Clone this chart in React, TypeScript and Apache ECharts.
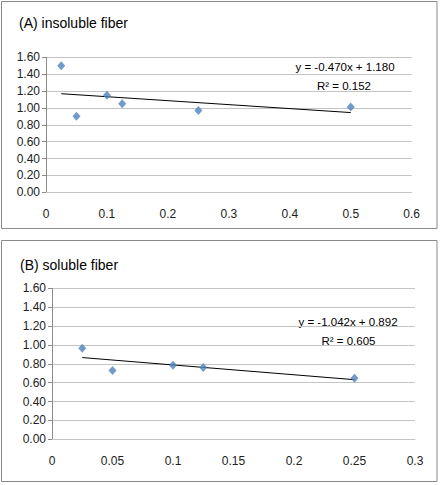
import React, { useEffect, useRef } from "react";
import * as echarts from "echarts";

// (A) insoluble fiber
const xA = [0.025, 0.05, 0.1, 0.125, 0.25, 0.5];
const yA = [1.5, 0.9, 1.15, 1.05, 0.97, 1.01];
const slopeA = -0.47;
const interceptA = 1.18;
const eqA = "y = -0.470x + 1.180";
const r2A = "R² = 0.152";
const titleA = "(A) insoluble fiber";
const xMaxA = 0.6;
const xIntA = 0.1;

// (B) soluble fiber
const xB = [0.025, 0.05, 0.1, 0.125, 0.25];
const yB = [0.965, 0.73, 0.785, 0.76, 0.648];
const slopeB = -1.042;
const interceptB = 0.892;
const eqB = "y = -1.042x + 0.892";
const r2B = "R² = 0.605";
const titleB = "(B) soluble fiber";
const xMaxB = 0.3;
const xIntB = 0.05;

const yMin = 0;
const yMax = 1.6;
const yInt = 0.2;

const FONT = "Liberation Sans, Arial, sans-serif";

export default function App() {
  const ref = useRef<HTMLDivElement>(null);
  useEffect(() => {
    if (!ref.current) return;
    const chart = echarts.init(ref.current, null, { renderer: "svg" });

    const trend = (xs: number[], m: number, b: number) => {
      const lo = Math.min(...xs);
      const hi = Math.max(...xs);
      return [
        [lo, m * lo + b],
        [hi, m * hi + b],
      ];
    };

    const yAxisCommon = {
      type: "value",
      min: yMin,
      max: yMax,
      interval: yInt,
      axisLine: { show: true, lineStyle: { color: "#8c8c8c", width: 1 } },
      axisTick: { show: true, length: 4, lineStyle: { color: "#8c8c8c" } },
      axisLabel: {
        margin: 6,
        color: "#222",
        fontFamily: FONT,
        fontSize: 12,
        formatter: (v: number) => v.toFixed(2),
      },
      splitLine: { show: true, lineStyle: { color: "#c4c4c4", width: 1 } },
    };

    const xAxisCommon = {
      type: "value",
      min: 0,
      axisLine: { show: true, onZero: false, lineStyle: { color: "#c4c4c4", width: 1 } },
      axisTick: { show: false },
      splitLine: { show: false },
      axisLabel: {
        margin: 16,
        color: "#222",
        fontFamily: FONT,
        fontSize: 12,
        formatter: (v: number) => String(parseFloat(v.toFixed(3))),
      },
    };

    const markerStyle = { color: "#4f81bd" };

    chart.setOption({
      animation: false,
      backgroundColor: "#fff",
      grid: [
        { left: 46, top: 57.3, width: 365.7, height: 135 },
        { left: 52, top: 288.3, width: 363, height: 151 },
      ],
      xAxis: [
        { ...xAxisCommon, gridIndex: 0, max: xMaxA, interval: xIntA },
        { ...xAxisCommon, gridIndex: 1, max: xMaxB, interval: xIntB },
      ],
      yAxis: [
        { ...yAxisCommon, gridIndex: 0 },
        { ...yAxisCommon, gridIndex: 1 },
      ],
      series: [
        {
          type: "line",
          xAxisIndex: 0,
          yAxisIndex: 0,
          data: trend(xA, slopeA, interceptA),
          symbol: "none",
          lineStyle: { color: "#000", width: 1 },
          z: 2,
        },
        {
          type: "scatter",
          xAxisIndex: 0,
          yAxisIndex: 0,
          data: xA.map((x, i) => [x, yA[i]]),
          symbol: "diamond",
          symbolSize: [8, 9],
          itemStyle: markerStyle,
          z: 3,
        },
        {
          type: "line",
          xAxisIndex: 1,
          yAxisIndex: 1,
          data: trend(xB, slopeB, interceptB),
          symbol: "none",
          lineStyle: { color: "#000", width: 1 },
          z: 2,
        },
        {
          type: "scatter",
          xAxisIndex: 1,
          yAxisIndex: 1,
          data: xB.map((x, i) => [x, yB[i]]),
          symbol: "diamond",
          symbolSize: [8, 9],
          itemStyle: markerStyle,
          z: 3,
        },
      ],
      graphic: [
        {
          type: "rect",
          shape: { x: 1.5, y: 1.5, width: 435.5, height: 227 },
          style: { fill: "none", stroke: "#8a8a8a", lineWidth: 1 },
          silent: true,
        },
        {
          type: "rect",
          shape: { x: 1.5, y: 240.5, width: 435.5, height: 241 },
          style: { fill: "none", stroke: "#8a8a8a", lineWidth: 1 },
          silent: true,
        },
        {
          type: "text",
          x: 19,
          y: 23,
          style: { text: titleA, font: `14px ${FONT}`, fill: "#000", verticalAlign: "middle" },
        },
        {
          type: "text",
          x: 20,
          y: 264.5,
          style: { text: titleB, font: `14px ${FONT}`, fill: "#000", verticalAlign: "middle" },
        },
        {
          type: "text",
          x: 345,
          y: 67,
          style: { text: eqA, font: `11.5px ${FONT}`, fill: "#000", align: "center", verticalAlign: "middle" },
        },
        {
          type: "text",
          x: 344,
          y: 86,
          style: { text: r2A, font: `11.5px ${FONT}`, fill: "#000", align: "center", verticalAlign: "middle" },
        },
        {
          type: "text",
          x: 348,
          y: 321.7,
          style: { text: eqB, font: `11.5px ${FONT}`, fill: "#000", align: "center", verticalAlign: "middle" },
        },
        {
          type: "text",
          x: 348.5,
          y: 341,
          style: { text: r2B, font: `11.5px ${FONT}`, fill: "#000", align: "center", verticalAlign: "middle" },
        },
      ],
    });
    return () => chart.dispose();
  }, []);

  return (
    <div
      ref={ref}
      style={{ position: "absolute", left: 0, top: 0, width: 440, height: 485, background: "#fff" }}
    />
  );
}
